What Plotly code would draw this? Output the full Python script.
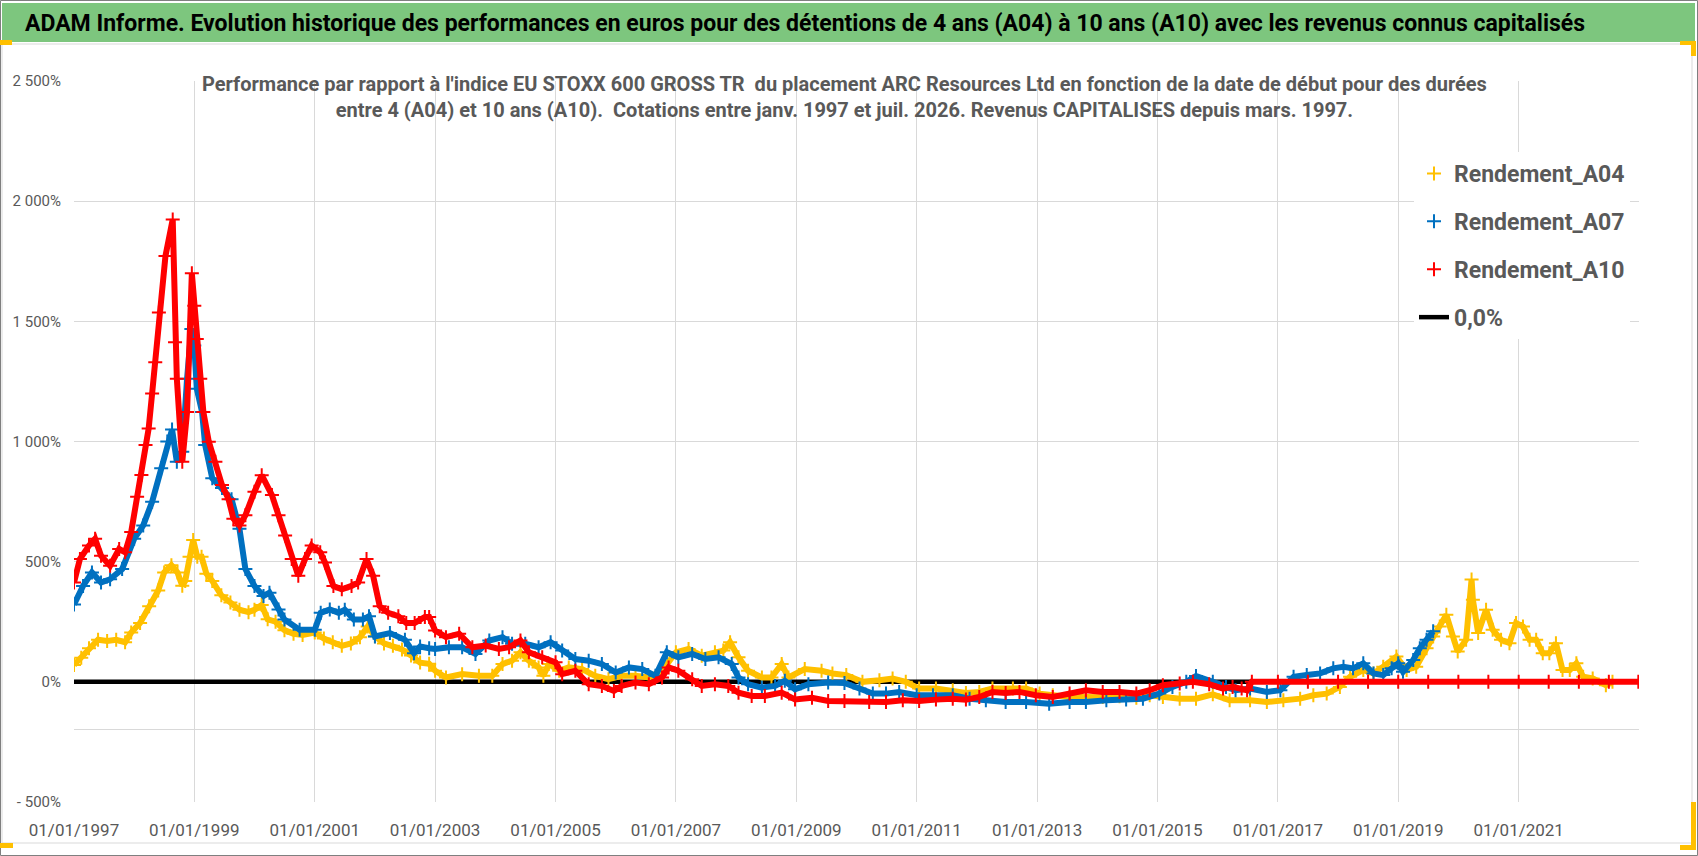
import datetime
import plotly.graph_objects as go

# years as decimal values, returns in %
a04_years = [1997.00, 1997.12, 1997.25, 1997.40, 1997.55, 1997.70, 1997.85, 1997.95, 1998.10, 1998.25,
             1998.40, 1998.50, 1998.62, 1998.72, 1998.80, 1998.85, 1998.92, 1998.98, 1999.05, 1999.12,
             1999.20, 1999.30, 1999.45, 1999.60, 1999.75, 1999.90, 2000.00, 2000.12, 2000.22, 2000.35,
             2000.50, 2000.65, 2000.80, 2001.00, 2001.15, 2001.30, 2001.45, 2001.60, 2001.75, 2001.88,
             2002.00, 2002.15, 2002.30, 2002.45, 2002.60, 2002.75, 2002.90, 2003.00, 2003.18, 2003.45,
             2003.73, 2003.95, 2004.12, 2004.28, 2004.42, 2004.56, 2004.72, 2004.80, 2004.89, 2005.06,
             2005.22, 2005.44, 2005.66, 2005.88, 2006.10, 2006.33, 2006.55, 2006.77, 2007.00, 2007.21,
             2007.43, 2007.65, 2007.79, 2007.90, 2008.04, 2008.20, 2008.43, 2008.59, 2008.76, 2008.87,
             2009.14, 2009.42, 2009.60, 2009.83, 2010.10, 2010.38, 2010.60, 2010.82, 2011.04, 2011.32,
             2011.60, 2011.82, 2012.04, 2012.26, 2012.60, 2012.82, 2013.04, 2013.26, 2013.54, 2013.81,
             2014.09, 2014.37, 2014.65, 2014.87, 2015.09, 2015.37, 2015.64, 2015.92, 2016.20, 2016.54,
             2016.82, 2017.09, 2017.37, 2017.59, 2017.81, 2018.03, 2018.20, 2018.42, 2018.59, 2018.75,
             2018.97, 2019.14, 2019.30, 2019.47, 2019.58, 2019.69, 2019.80, 2019.91, 2019.99, 2020.13,
             2020.22, 2020.24, 2020.33, 2020.46, 2020.57, 2020.71, 2020.85, 2020.96, 2021.07, 2021.18,
             2021.29, 2021.40, 2021.51, 2021.62, 2021.73, 2021.85, 2021.96, 2022.07, 2022.23, 2022.45,
             2022.56]
a04_values = [70, 100, 140, 175, 170, 175, 165, 205, 245, 315,
              380, 455, 485, 455, 400, 420, 520, 590, 520, 520,
              450, 420, 360, 330, 300, 290, 300, 320, 260, 250,
              215, 200, 195, 205, 180, 165, 150, 160, 185, 230,
              190, 160, 150, 135, 110, 80, 75, 46, 18, 32,
              25, 25, 74, 88, 123, 88, 60, 25, 74, 46,
              60, 53, 25, 11, 25, 25, 18, 46, 123, 137,
              109, 123, 130, 165, 102, 46, 18, 18, 74, 18,
              53, 46, 35, 28, 0, 7, 14, 0, -28, -28,
              -35, -46, -42, -28, -28, -28, -49, -56, -63, -63,
              -63, -60, -66, -56, -63, -70, -70, -52, -77, -77,
              -84, -77, -70, -56, -49, -21, 21, 49, 35, 63,
              105, 49, 63, 140, 189, 230, 279, 189, 126, 175,
              426, 342, 203, 300, 217, 175, 161, 245, 230, 175,
              175, 119, 119, 161, 49, 49, 77, 21, 14, -14,
              0]

a07_years = [1997.00, 1997.15, 1997.30, 1997.45, 1997.60, 1997.80, 1998.00, 1998.15, 1998.30, 1998.45,
             1998.55, 1998.63, 1998.71, 1998.80, 1998.88, 1998.95, 1999.00, 1999.04, 1999.13, 1999.18,
             1999.30, 1999.46, 1999.62, 1999.75, 1999.85, 2000.00, 2000.15, 2000.25, 2000.40, 2000.50,
             2000.75, 2001.00, 2001.10, 2001.25, 2001.40, 2001.50, 2001.65, 2001.80, 2001.90, 2002.00,
             2002.25, 2002.50, 2002.65, 2002.75, 2002.90, 2003.00, 2003.23, 2003.45, 2003.67, 2003.90,
             2004.12, 2004.28, 2004.50, 2004.72, 2004.92, 2005.11, 2005.33, 2005.55, 2005.77, 2006.00,
             2006.22, 2006.44, 2006.66, 2006.85, 2007.04, 2007.27, 2007.49, 2007.71, 2007.93, 2008.04,
             2008.20, 2008.43, 2008.65, 2008.81, 2008.98, 2009.20, 2009.53, 2009.80, 2010.05, 2010.27,
             2010.49, 2010.71, 2011.00, 2011.27, 2011.60, 2011.88, 2012.15, 2012.48, 2012.82, 2013.20,
             2013.54, 2013.81, 2014.15, 2014.48, 2014.76, 2015.03, 2015.25, 2015.48, 2015.64, 2015.92,
             2016.14, 2016.30, 2016.54, 2016.82, 2017.04, 2017.26, 2017.48, 2017.70, 2017.92, 2018.09,
             2018.25, 2018.42, 2018.59, 2018.75, 2018.89, 2019.00, 2019.08, 2019.25, 2019.36, 2019.47,
             2019.58]
a07_values = [322, 399, 455, 413, 427, 469, 595, 651, 749, 889,
              1000, 1050, 916, 957, 1261, 1468, 1399, 1220, 1123, 985,
              847, 806, 760, 637, 469, 399, 357, 371, 301, 259,
              217, 217, 287, 301, 287, 300, 259, 259, 273, 189,
              203, 175, 119, 147, 140, 137, 144, 144, 116, 172,
              186, 158, 158, 144, 165, 130, 95, 88, 74, 39,
              60, 53, 25, 123, 102, 116, 95, 102, 74, 18,
              -10, -24, -17, 4, -31, -10, -3, -5, -28, -49,
              -49, -42, -56, -56, -56, -70, -77, -84, -84, -91,
              -84, -84, -77, -74, -70, -49, -21, 0, 24, 0,
              -21, -35, -28, -42, -35, 21, 28, 35, 56, 63,
              56, 77, 35, 28, 56, 77, 42, 91, 140, 175,
              210]

a10_years = [1997.00, 1997.10, 1997.25, 1997.35, 1997.45, 1997.60, 1997.75, 1997.85, 1997.95, 1998.05,
             1998.12, 1998.19, 1998.24, 1998.30, 1998.35, 1998.41, 1998.52, 1998.64, 1998.68, 1998.71,
             1998.80, 1998.88, 1998.96, 1999.00, 1999.04, 1999.10, 1999.15, 1999.24, 1999.35, 1999.46,
             1999.57, 1999.65, 1999.75, 1999.85, 2000.00, 2000.12, 2000.29, 2000.40, 2000.51, 2000.62,
             2000.73, 2000.84, 2000.95, 2001.09, 2001.17, 2001.31, 2001.45, 2001.61, 2001.72, 2001.86,
             2001.97, 2002.08, 2002.22, 2002.39, 2002.52, 2002.66, 2002.83, 2002.90, 2003.00, 2003.18,
             2003.40, 2003.62, 2003.84, 2004.06, 2004.23, 2004.42, 2004.56, 2004.78, 2005.00, 2005.11,
             2005.33, 2005.55, 2005.77, 2005.97, 2006.10, 2006.33, 2006.55, 2006.77, 2006.88, 2007.04,
             2007.27, 2007.43, 2007.65, 2007.87, 2008.04, 2008.26, 2008.48, 2008.76, 2008.98, 2009.26,
             2009.53, 2009.80, 2010.21, 2010.49, 2010.77, 2011.04, 2011.32, 2011.60, 2011.82, 2012.04,
             2012.26, 2012.48, 2012.71, 2012.98, 2013.26, 2013.54, 2013.81, 2014.09, 2014.37, 2014.65,
             2014.87, 2015.09, 2015.37, 2015.59, 2015.86, 2016.09, 2016.25, 2016.40, 2016.49, 2016.57,
             2017.00, 2017.50, 2018.00, 2018.50, 2019.00, 2019.50, 2020.00, 2020.50, 2021.00, 2021.50,
             2022.00, 2022.50, 2022.99]
a10_values = [413, 511, 567, 595, 525, 483, 553, 539, 623, 770,
              861, 985, 1054, 1200, 1330, 1537, 1772, 1924, 1413, 1261,
              916, 1123, 1700, 1565, 1427, 1261, 1123, 999, 916, 819,
              760, 679, 651, 693, 791, 860, 777, 693, 609, 511,
              441, 511, 567, 539, 497, 399, 385, 399, 413, 511,
              441, 315, 287, 273, 245, 245, 270, 270, 214, 186,
              200, 144, 151, 137, 144, 172, 123, 102, 81, 32,
              46, -10, -17, -38, -17, -3, -10, 18, 60, 46,
              11, -17, -10, -17, -45, -59, -59, -45, -73, -66,
              -80, -80, -84, -84, -77, -80, -74, -70, -74, -63,
              -42, -46, -42, -56, -63, -49, -35, -42, -42, -49,
              -35, -14, -7, 0, -10, -28, -21, -28, -35, 0,
              0, 0, 0, 0, 0, 0, 0, 0, 0, 0,
              0, 0, 0]

x_ticks = ["1997-01-01", "1999-01-01", "2001-01-01", "2003-01-01", "2005-01-01", "2007-01-01",
           "2009-01-01", "2011-01-01", "2013-01-01", "2015-01-01", "2017-01-01", "2019-01-01",
           "2021-01-01"]
x_labels = ["01/01/1997", "01/01/1999", "01/01/2001", "01/01/2003", "01/01/2005", "01/01/2007",
            "01/01/2009", "01/01/2011", "01/01/2013", "01/01/2015", "01/01/2017", "01/01/2019",
            "01/01/2021"]
y_ticks = [2500, 2000, 1500, 1000, 500, 0, -200, -500]
y_labels = ["2 500%", "2 000%", "1 500%", "1 000%", "500%", "0%", "", "- 500%"]


def to_date(t):
    year = int(t)
    day = int(round((t - year) * 365))
    return (datetime.date(year, 1, 1) + datetime.timedelta(days=day)).isoformat()


FONT = "Liberation Sans Narrow, Arial Narrow, Roboto, sans-serif"
W, H = 1698, 856
L, R, T, B = 74, 59, 81, 54


def px(x):
    return (x - L) / (W - L - R)


def py(y):
    return 1 - (y - T) / (H - T - B)


series = [
    ("Rendement_A04", a04_years, a04_values, "#FFC000"),
    ("Rendement_A07", a07_years, a07_values, "#0070C0"),
    ("Rendement_A10", a10_years, a10_values, "#FF0000"),
]

fig = go.Figure()

fig.add_trace(go.Scatter(x=["1997-01-01", "2022-12-31"], y=[0, 0], mode="lines",
                         line=dict(color="black", width=4.5), name="0,0%",
                         legendgroup="z", legendrank=4))

for i, (name, years, vals, col) in enumerate(series):
    dates = [to_date(t) for t in years]
    fig.add_trace(go.Scatter(x=dates, y=vals, mode="lines", line=dict(color=col, width=6),
                             showlegend=False, hoverinfo="skip"))
    fig.add_trace(go.Scatter(x=dates, y=vals, mode="markers", name=name,
                             legendgroup=name, legendrank=i + 1,
                             marker=dict(symbol="cross-thin", size=10, color=col,
                                         line=dict(width=2, color=col))))

shapes = [
    # outer frame
    dict(type="rect", xref="paper", yref="paper", x0=px(0.5), x1=px(1697.5), y0=py(0.5), y1=py(855.5),
         line=dict(color="#7F7F7F", width=1), layer="below"),
    dict(type="rect", xref="paper", yref="paper", x0=px(2), x1=px(1692), y0=py(44), y1=py(843),
         line=dict(color="#D9D9D9", width=1), layer="below"),
    # green title band
    dict(type="rect", xref="paper", yref="paper", x0=px(2), x1=px(1695), y0=py(3), y1=py(42),
         fillcolor="#7DC67E", line=dict(width=0), layer="below"),
    # white boxes behind subtitle and legend
    dict(type="rect", xref="paper", yref="paper", x0=px(195), x1=px(1492), y0=py(66), y1=py(130),
         fillcolor="white", line=dict(width=0), layer="between"),
    dict(type="rect", xref="paper", yref="paper", x0=px(1383), x1=px(1640), y0=py(148), y1=py(365),
         fillcolor="white", line=dict(width=0), layer="between"),
    # yellow corner marks
    dict(type="rect", xref="paper", yref="paper", x0=px(0), x1=px(12), y0=py(40), y1=py(45),
         fillcolor="#FFC000", line=dict(width=0)),
    dict(type="rect", xref="paper", yref="paper", x0=px(1680), x1=px(1696), y0=py(41), y1=py(45),
         fillcolor="#FFC000", line=dict(width=0)),
    dict(type="rect", xref="paper", yref="paper", x0=px(1691), x1=px(1696), y0=py(41), y1=py(56),
         fillcolor="#FFC000", line=dict(width=0)),
    dict(type="rect", xref="paper", yref="paper", x0=px(1691), x1=px(1696), y0=py(802), y1=py(850),
         fillcolor="#FFC000", line=dict(width=0)),
    dict(type="rect", xref="paper", yref="paper", x0=px(1680), x1=px(1696), y0=py(845), y1=py(850),
         fillcolor="#FFC000", line=dict(width=0)),
    dict(type="rect", xref="paper", yref="paper", x0=px(0), x1=px(13), y0=py(843), y1=py(848),
         fillcolor="#FFC000", line=dict(width=0)),
]

annotations = [
    dict(text="ADAM Informe. Evolution historique des performances en euros pour des détentions "
              "de 4 ans (A04) à 10 ans (A10) avec les revenus connus capitalisés",
         xref="paper", yref="paper", x=px(805), y=py(23), showarrow=False,
         font=dict(family=FONT, size=23, color="black", weight="bold"), xanchor="center", yanchor="middle"),
    dict(text="Performance par rapport à l'indice EU STOXX 600 GROSS TR  du placement ARC Resources Ltd "
              "en fonction de la date de début pour des durées<br>entre 4 (A04) et 10 ans (A10).  "
              "Cotations entre janv. 1997 et juil. 2026. Revenus CAPITALISES depuis mars. 1997.",
         xref="paper", yref="paper", x=px(844), y=py(97), showarrow=False,
         font=dict(family=FONT, size=20, color="#595959", weight="bold"), xanchor="center", yanchor="middle"),
]

fig.update_layout(
    width=W, height=H,
    margin=dict(l=L, r=R, t=T, b=B),
    paper_bgcolor="white", plot_bgcolor="white",
    shapes=shapes, annotations=annotations,
    showlegend=True,
    legend=dict(x=px(1414), y=py(152), xanchor="left", yanchor="top", bgcolor="white",
                font=dict(family=FONT, size=23, color="#595959", weight="bold"),
                tracegroupgap=15, traceorder="grouped"),
    xaxis=dict(type="date", range=["1997-01-01", "2023-01-01"], tickvals=x_ticks, ticktext=x_labels,
               showgrid=True, gridcolor="#D9D9D9", gridwidth=1, zeroline=False, showline=False,
               ticks="", ticklabelstandoff=16,
               tickfont=dict(family=FONT, size=17, color="#595959")),
    yaxis=dict(range=[-500, 2500], tickvals=y_ticks, ticktext=y_labels,
               showgrid=True, gridcolor="#D9D9D9", gridwidth=1, zeroline=False, showline=False,
               ticks="", ticklabelstandoff=12,
               tickfont=dict(family=FONT, size=15, color="#595959")),
)

fig.write_html("out.html", config={"displayModeBar": False},
               post_script="document.body.style.margin='0';")
